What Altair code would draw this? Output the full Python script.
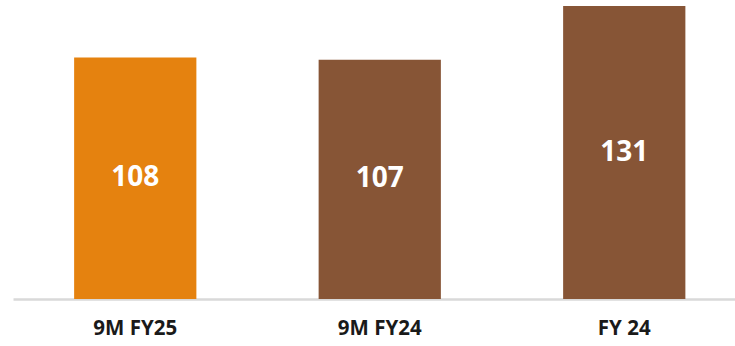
import altair as alt
import pandas as pd

categories = ["9M FY25", "9M FY24", "FY 24"]
values = [108, 107, 131]
colors = ["#E5820F", "#875536", "#875536"]

df = pd.DataFrame({"cat": categories, "val": values, "col": colors})

x = alt.X("cat:N", sort=categories,
          scale=alt.Scale(range=[0, 733.5], paddingInner=0.5, paddingOuter=0.25),
          axis=alt.Axis(title=None, labelAngle=0, labelFontSize=20.5, labelFontWeight="bold",
                        labelFont="Open Sans", labelColor="#1a1a1a", labelPadding=19,
                        ticks=False, domainColor="#D9D9D9", domainWidth=2.5, grid=False))
y = alt.Y("val:Q", scale=alt.Scale(domain=[0, 133.7], nice=False), axis=None)

bars = alt.Chart(df).mark_bar().encode(
    x=x, y=y, color=alt.Color("col:N", scale=None)
)

labels = alt.Chart(df).transform_calculate(mid="datum.val/2").mark_text(
    color="white", fontSize=28, fontWeight="bold", font="Open Sans", baseline="middle"
).encode(x=alt.X("cat:N", sort=categories), y=alt.Y("mid:Q"), text="val:Q")

chart = alt.layer(bars, labels).properties(
    width=722, height=299,
    autosize=alt.AutoSizeParams(type="none"),
    padding={"left": 13, "right": 0, "top": 0, "bottom": 47},
).configure_view(stroke=None)

chart.save("out.html", embed_options={"renderer": "svg", "actions": False})
